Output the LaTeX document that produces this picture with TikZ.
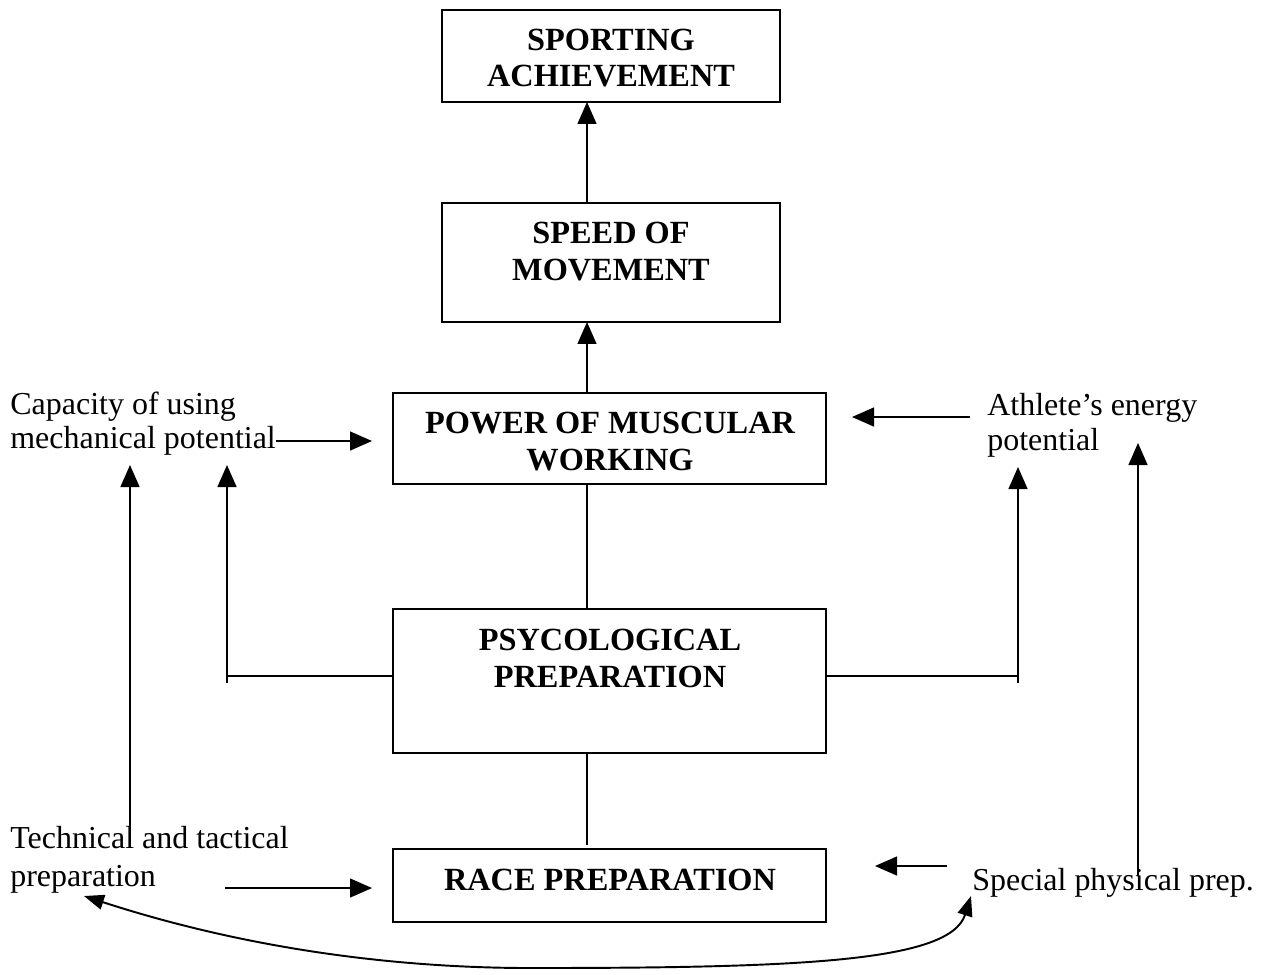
\documentclass[tikz,border=0pt]{standalone}
\usepackage{fontspec}
\setmainfont{Liberation Serif}
\usetikzlibrary{arrows.meta}
\begin{document}
\begin{tikzpicture}[x=0.02cm,y=-0.02cm,
  box/.style={draw,line width=1pt,inner sep=0pt,outer sep=0pt},
  txt/.style={inner sep=0pt,font=\fontsize{18.2}{20.5}\selectfont},
  btxt/.style={inner sep=0pt,font=\fontsize{18.4}{20.5}\selectfont\bfseries,anchor=base},
  conn/.style={line width=0.8pt},
  arr/.style={line width=0.8pt,-{Triangle[length=0.44cm,width=0.38cm]}},
  carr/.style={line width=1.1pt,{Triangle[length=0.4cm,width=0.3cm]}-{Triangle[length=0.4cm,width=0.3cm]}}]
\useasboundingbox (0,0) rectangle (1266,974);
% boxes
\node[box,minimum width=6.76cm,minimum height=1.84cm] (spo) at (611,56) {};
\node[box,minimum width=6.76cm,minimum height=2.38cm] (spd) at (611,262.5) {};
\node[box,minimum width=8.66cm,minimum height=1.82cm] (pow) at (609.5,438.5) {};
\node[box,minimum width=8.66cm,minimum height=2.88cm] (psy) at (609.5,681) {};
\node[box,minimum width=8.66cm,minimum height=1.46cm] (rac) at (609.5,885.5) {};
% box texts
\node[btxt] (spoA) at (611,50) {SPORTING};
\node[btxt] (spoB) at (611,86) {ACHIEVEMENT};
\node[btxt] (spdA) at (611,243) {SPEED OF};
\node[btxt] (spdB) at (611,280) {MOVEMENT};
\node[btxt] (powA) at (610,433) {POWER OF MUSCULAR};
\node[btxt] (powB) at (610,470) {WORKING};
\node[btxt] (psyA) at (610,650) {PSYCOLOGICAL};
\node[btxt] (psyB) at (610,687) {PREPARATION};
\node[btxt] (racA) at (610,890) {RACE PREPARATION};
% side texts
\node[txt,anchor=base west] (capA) at (10,414) {Capacity of using};
\node[txt,anchor=base west] (capB) at (10,448) {mechanical potential};
\node[txt,anchor=base west] (athA) at (987,415) {Athlete’s energy};
\node[txt,anchor=base west] (athB) at (987,450) {potential};
\node[txt,anchor=base west] (tecA) at (10,848) {Technical and tactical};
\node[txt,anchor=base west] (tecB) at (10,886) {preparation};
\node[txt,anchor=base west] (spe) at (972,890) {Special physical prep.};
% helper coordinates
\coordinate (ax) at (587,0);
\coordinate (hy) at (0,676);
\coordinate (racT) at (587,845);
\coordinate (lB) at (227,683);
\coordinate (lT) at (227,465);
\coordinate (rB) at (1018,683);
\coordinate (rT) at (1018,467);
\coordinate (flB) at (130,826);
\coordinate (flT) at (130,465);
\coordinate (frB) at (1138,876);
\coordinate (frT) at (1138,443);
\coordinate (capH) at (372,441);
\coordinate (athS) at (970,417);
\coordinate (athH) at (852,417);
\coordinate (tecS) at (225,888);
\coordinate (tecH) at (372,888);
\coordinate (speS) at (947,866);
\coordinate (speH) at (875,866);
\coordinate (cL) at (84,896);
\coordinate (cM) at (530,968);
\coordinate (cR) at (971,896);
% connectors
\draw[arr] (spd.north -| ax) -- (spo.south -| ax);
\draw[arr] (pow.north -| ax) -- (spd.south -| ax);
\draw[conn] (psy.north -| ax) -- (pow.south -| ax);
\draw[conn] (psy.south -| ax) -- (racT);
\draw[conn] (psy.west |- hy) -- (lB |- hy);
\draw[arr] (lB) -- (lT);
\draw[conn] (psy.east |- hy) -- (rB |- hy);
\draw[arr] (rB) -- (rT);
\draw[arr] (flB) -- (flT);
\draw[arr] (frB) -- (frT);
\draw[arr] (capB.east |- capH) -- (capH);
\draw[arr] (athS) -- (athH);
\draw[arr] (tecS) -- (tecH);
\draw[arr] (speS) -- (speH);
\draw[carr] (cL) .. controls (250,950) and (400,968) .. (cM) .. controls (800,968) and (950,962) .. (cR);
\end{tikzpicture}
\end{document}
